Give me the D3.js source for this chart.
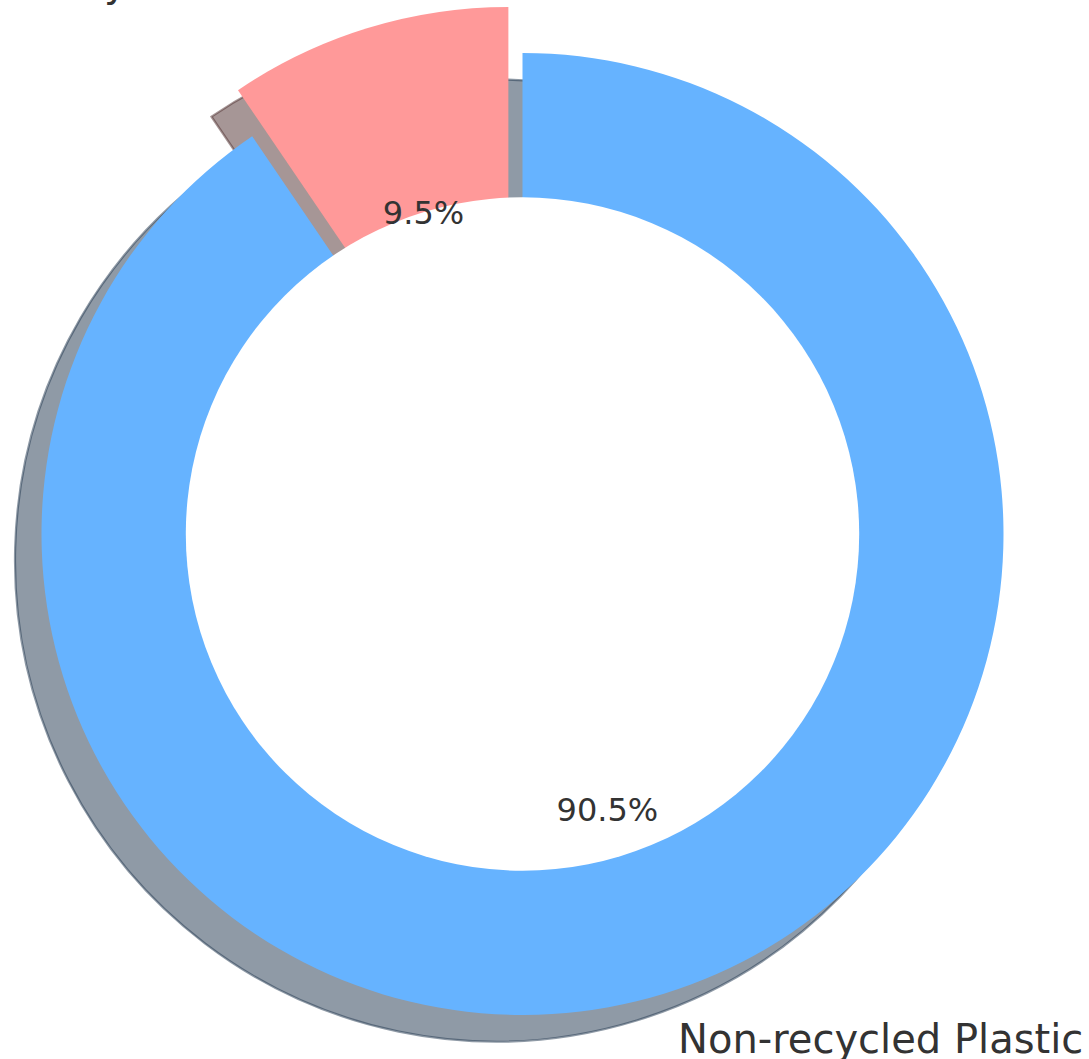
<!DOCTYPE html>
<html><head><meta charset="utf-8">
<script src="https://cdn.jsdelivr.net/npm/d3@7"></script>
<style>html,body{margin:0;padding:0;background:#fff;overflow:hidden}</style>
</head><body>
<svg id="chart" width="1089" height="1059"></svg>
<script>
const labels = ["Recycled Plastic", "Non-recycled Plastic"];
const values = [9.5, 90.5];
const colors = ["#ff9999", "#66b3ff"];
const explode = [0.1, 0];

const W = 1089, H = 1059, cx = 522.5, cy = 534, R = 481;
const holeFrac = 0.7, labelDist = 1.1, pctDist = 0.6;
const shadowOff = {x: -26.5, y: 26.5};
const labelFont = 40, pctFont = 32;
const textColor = "#333333";

const total = d3.sum(values);
const svg = d3.select("#chart");
const g = svg.append("g").attr("transform", `translate(${cx},${cy})`);

// counterclockwise from 12 o'clock (matplotlib startangle=90)
const pie = d3.pie().sort(null).value(d => d).startAngle(0).endAngle(-2 * Math.PI);
const arcs = pie(values);
const arc = d3.arc().innerRadius(0).outerRadius(R);

function dir(a) { return [Math.sin(a), -Math.cos(a)]; }
arcs.forEach((d, i) => {
  d.mid = (d.startAngle + d.endAngle) / 2;
  const [ux, uy] = dir(d.mid);
  d.ox = explode[i] * R * ux;
  d.oy = explode[i] * R * uy;
  d.ux = ux; d.uy = uy;
});

function shade(c) {
  const r = d3.rgb(c);
  return d3.rgb(r.r * 0.3, r.g * 0.3, r.b * 0.3).toString();
}

// shadows
g.append("g").selectAll("path").data(arcs).join("path")
  .attr("d", arc)
  .attr("transform", d => `translate(${d.ox + shadowOff.x},${d.oy + shadowOff.y})`)
  .attr("fill", (d, i) => shade(colors[i]))
  .attr("fill-opacity", 0.5)
  .attr("stroke", (d, i) => shade(colors[i]))
  .attr("stroke-opacity", 0.5)
  .attr("stroke-width", 2.2)
  .attr("stroke-linejoin", "miter");

// wedges
g.append("g").selectAll("path").data(arcs).join("path")
  .attr("d", arc)
  .attr("transform", d => `translate(${d.ox},${d.oy})`)
  .attr("fill", (d, i) => colors[i]);

// centre hole
g.append("circle").attr("r", R * holeFrac).attr("fill", "#ffffff");

// category labels
g.append("g").selectAll("text").data(arcs).join("text")
  .attr("x", d => d.ox + labelDist * R * d.ux)
  .attr("y", d => d.oy + labelDist * R * d.uy)
  .attr("dy", "0.34em")
  .attr("text-anchor", d => d.ux < 0 ? "end" : "start")
  .attr("font-family", "DejaVu Sans")
  .attr("font-size", labelFont)
  .attr("fill", textColor)
  .text((d, i) => labels[i]);

// percentage labels
g.append("g").selectAll("text").data(arcs).join("text")
  .attr("x", d => d.ox + pctDist * R * d.ux)
  .attr("y", d => d.oy + pctDist * R * d.uy)
  .attr("dy", "0.36em")
  .attr("text-anchor", "middle")
  .attr("font-family", "DejaVu Sans")
  .attr("font-size", pctFont)
  .attr("fill", textColor)
  .text(d => d3.format(".1f")(d.value / total * 100) + "%");
</script>
</body></html>
